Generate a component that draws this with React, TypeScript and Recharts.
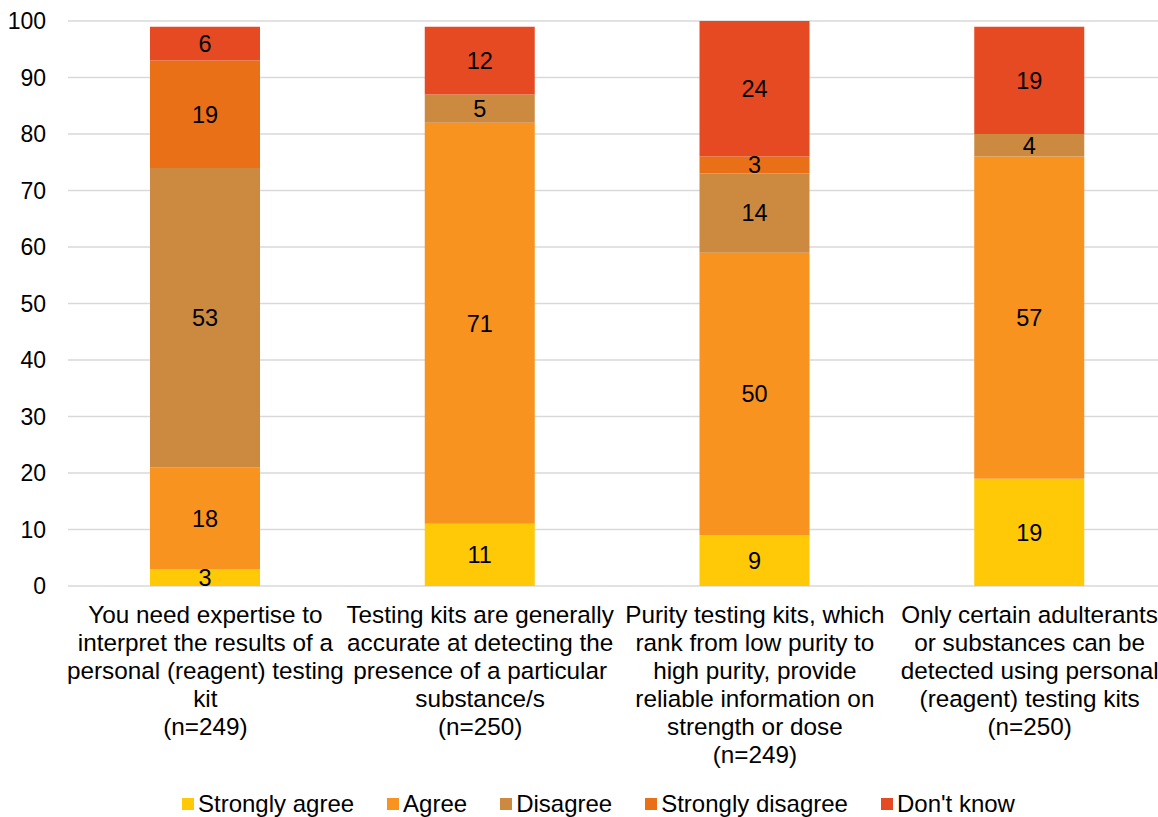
import React from 'react';
import {
  BarChart,
  Bar,
  XAxis,
  YAxis,
  CartesianGrid,
  Legend,
  LabelList,
} from 'recharts';

// statements shown under each bar, one entry per line
const categoryLines: string[][] = [
  ['You need expertise to', 'interpret the results of a', 'personal (reagent) testing', 'kit', '(n=249)'],
  ['Testing kits are generally', 'accurate at detecting the', 'presence of a particular', 'substance/s', '(n=250)'],
  ['Purity testing kits, which', 'rank from low purity to', 'high purity, provide', 'reliable information on', 'strength or dose', '(n=249)'],
  ['Only certain adulterants', 'or substances can be', 'detected using personal', '(reagent) testing kits', '(n=250)'],
];

const stronglyAgree = [3, 11, 9, 19];
const agree = [18, 71, 50, 57];
const disagree = [53, 5, 14, 4];
const stronglyDisagree = [19, 0, 3, 0];
const dontKnow = [6, 12, 24, 19];

const yTicks = [0, 10, 20, 30, 40, 50, 60, 70, 80, 90, 100];

const series = [
  { key: 'sa', name: 'Strongly agree', values: stronglyAgree, color: '#FFC907' },
  { key: 'a', name: 'Agree', values: agree, color: '#F7931E' },
  { key: 'd', name: 'Disagree', values: disagree, color: '#CC8A40' },
  { key: 'sd', name: 'Strongly disagree', values: stronglyDisagree, color: '#EA7018' },
  { key: 'dk', name: "Don't know", values: dontKnow, color: '#E64A23' },
];

const data = categoryLines.map((lines, i) => {
  const row: Record<string, any> = { name: String(i) };
  series.forEach((s) => {
    row[s.key] = s.values[i];
  });
  return row;
});

const FONT = '"Liberation Sans", Arial, sans-serif';

const CategoryTick = (props: any) => {
  const { x, y, payload } = props;
  const lines = categoryLines[Number(payload.value)] || [];
  return (
    <g transform={`translate(${x},${y})`}>
      {lines.map((line, i) => (
        <text
          key={i}
          x={0}
          y={29 + i * 28}
          textAnchor="middle"
          fontSize={24.3}
          fontFamily={FONT}
          fill="#000"
        >
          {line}
        </text>
      ))}
    </g>
  );
};

const LegendContent = () => (
  <div
    style={{
      display: 'flex',
      alignItems: 'center',
      height: 26,
      paddingLeft: 182,
      fontFamily: FONT,
      fontSize: 24,
      color: '#000',
      whiteSpace: 'nowrap',
    }}
  >
    {series.map((s) => (
      <div key={s.key} style={{ display: 'flex', alignItems: 'center', marginRight: 33 }}>
        <span style={{ width: 12, height: 12, background: s.color, marginRight: 4, display: 'inline-block' }} />
        <span>{s.name}</span>
      </div>
    ))}
  </div>
);

const hideZero = (v: any) => (v ? v : '');

export default function App() {
  return (
    <div style={{ position: 'absolute', left: 0, top: 0, width: 1158, height: 817, overflow: 'hidden', background: '#fff' }}>
      <BarChart
        width={1175}
        height={817}
        data={data}
        margin={{ top: 21, right: 8, left: 8, bottom: 0 }}
        barSize={110}
      >
        <CartesianGrid vertical={false} stroke="#D9D9D9" strokeWidth={1.5} />
        <XAxis
          dataKey="name"
          axisLine={false}
          tickLine={false}
          height={205}
          interval={0}
          tick={<CategoryTick />}
        />
        <YAxis
          width={60}
          domain={[0, 100]}
          ticks={yTicks}
          axisLine={false}
          tickLine={false}
          tickSize={0}
          tickMargin={22}
          tick={{ fontSize: 23, fontFamily: FONT, fill: '#000' }}
        />
        <Legend verticalAlign="bottom" content={<LegendContent />} wrapperStyle={{ left: 0, width: 1175 }} />
        {series.map((s) => (
          <Bar key={s.key} dataKey={s.key} name={s.name} stackId="stack" fill={s.color} isAnimationActive={false}>
            <LabelList
              dataKey={s.key}
              position="center"
              formatter={hideZero}
              style={{ fontSize: 23.5, fontFamily: FONT, fill: '#000' }}
            />
          </Bar>
        ))}
      </BarChart>
    </div>
  );
}
